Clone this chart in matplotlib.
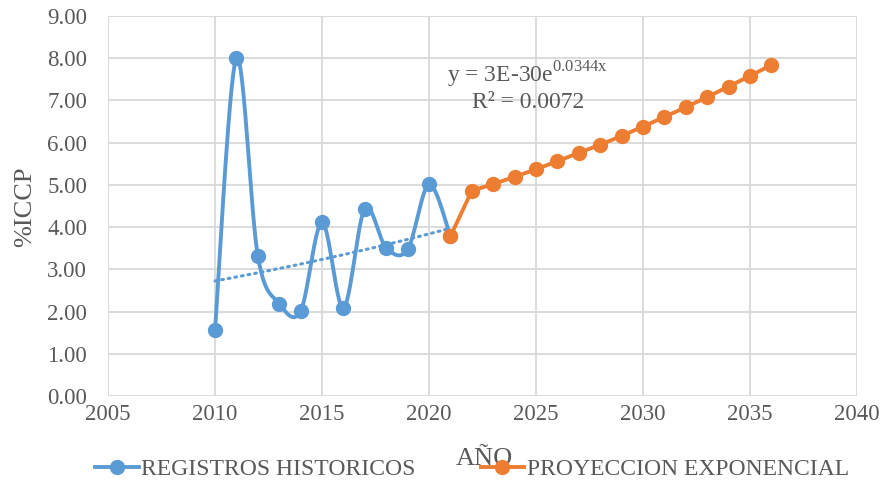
import numpy as np
import matplotlib.pyplot as plt

plt.rcParams['font.family'] = ['Liberation Serif', 'DejaVu Serif']
plt.rcParams['mathtext.fontset'] = 'custom'
plt.rcParams['mathtext.rm'] = 'Liberation Serif'

# historical records
hist_years = [2010, 2011, 2012, 2013, 2014, 2015, 2016, 2017, 2018, 2019, 2020, 2021]
hist_vals = [1.57, 8.00, 3.32, 2.19, 2.01, 4.11, 2.09, 4.43, 3.51, 3.47, 5.01, 3.78]

# exponential projection
proj_years = list(range(2021, 2037))
proj_vals = [3.78, 4.86, 5.02, 5.19, 5.37, 5.56, 5.76, 5.95, 6.16, 6.38, 6.61,
             6.84, 7.08, 7.33, 7.58, 7.84]

eq_text = r'y = 3E-30e$^{\mathrm{0.0344x}}$'
r2_text = 'R² = 0.0072'

blue = '#5b9bd5'
orange = '#ed7d31'
grey = '#595959'
W, H = 883, 487


def smooth(x, y, n=30):
    # catmull-rom style curve through the points (like excel smoothed line)
    x = np.asarray(x, float)
    y = np.asarray(y, float)
    px = np.concatenate([[x[0]], x, [x[-1]]])
    py = np.concatenate([[y[0]], y, [y[-1]]])
    xs, ys = [], []
    for i in range(1, len(px) - 2):
        p0, p1, p2, p3 = (np.array([px[j], py[j]]) for j in (i - 1, i, i + 1, i + 2))
        c1 = p1 + (p2 - p0) / 6
        c2 = p2 - (p3 - p1) / 6
        t = np.linspace(0, 1, n)[:, None]
        b = (1 - t) ** 3 * p1 + 3 * (1 - t) ** 2 * t * c1 + 3 * (1 - t) * t ** 2 * c2 + t ** 3 * p2
        xs.extend(b[:, 0])
        ys.extend(b[:, 1])
    return np.array(xs), np.array(ys)


fig = plt.figure(figsize=(W / 100, H / 100), dpi=100)
ax = fig.add_axes([108 / W, 1 - 396 / H, (857 - 108) / W, (396 - 16) / H])

sx, sy = smooth(hist_years, hist_vals)
ax.plot(sx, sy, color=blue, lw=2.8, zorder=3)
ax.plot(hist_years, hist_vals, 'o', color=blue, ms=10, zorder=4)
ax.plot([], [], '-o', color=blue, lw=2.8, ms=10, label='REGISTROS HISTORICOS')

# exponential trendline fitted on the historical records
k, b = np.polyfit(hist_years, np.log(hist_vals), 1)
tx = np.linspace(hist_years[0], hist_years[-1], 100)
ax.plot(tx, np.exp(b + k * tx), color=blue, lw=2.2, ls=(0, (0.6, 1.6)),
        dash_capstyle='round', zorder=2)

ax.plot(proj_years, proj_vals, '-o', color=orange, lw=2.8, ms=10, zorder=5,
        label='PROYECCION EXPONENCIAL')

ax.set_xlim(2005, 2040)
ax.set_ylim(0, 9)
ax.set_xticks(range(2005, 2041, 5))
ax.set_yticks(np.arange(0, 9.01, 1))
ax.set_yticklabels(['%.2f' % v for v in np.arange(0, 9.01, 1)])
ax.grid(True, color='#d9d9d9', lw=1.3)
ax.set_axisbelow(True)
for s in ax.spines.values():
    s.set_visible(False)
ax.tick_params(length=0, labelsize=16.5, colors=grey)
ax.tick_params(axis='y', pad=15)
ax.tick_params(axis='x', pad=6)

fig.text(25 / W, 1 - 207 / H, '%ICCP', fontsize=19, color=grey, rotation=90,
         ha='center', va='center')
fig.text(484 / W, 1 - 459 / H, 'AÑO', fontsize=19, color=grey, ha='center', va='center')

fig.text(527 / W, 1 - 75 / H, eq_text, fontsize=17, color=grey, ha='center', va='center')
fig.text(528 / W, 1 - 103 / H, r2_text, fontsize=17, color=grey, ha='center', va='center')

fig.legend(loc='center', bbox_to_anchor=(472 / W, 1 - 469 / H), ncol=2, frameon=False,
           fontsize=17, labelcolor=grey, handlelength=1.85, columnspacing=2.75,
           handletextpad=0.1, borderaxespad=0)

fig.savefig('out.png', dpi=100)
